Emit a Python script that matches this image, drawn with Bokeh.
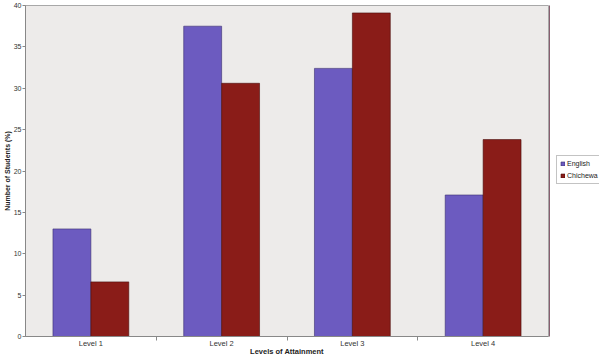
import numpy as np
from bokeh.plotting import figure
from bokeh.layouts import row
from bokeh.models import ColumnDataSource, FixedTicker, Legend, LegendItem, Range1d
from bokeh.embed import file_html
from bokeh.resources import INLINE

categories = ["Level 1", "Level 2", "Level 3", "Level 4"]
series_names = ["English", "Chichewa"]
english = [13.0, 37.5, 32.4, 17.1]
chichewa = [6.6, 30.6, 39.1, 23.8]
y_ticks = [0, 5, 10, 15, 20, 25, 30, 35, 40]

FONT = "Liberation Sans"
C_EN = "#6C5BC0"
C_CH = "#8A1C18"
centers = np.arange(len(categories)) + 0.5
bw = 0.29

p = figure(width=549, height=358, output_backend="svg", toolbar_location=None,
           x_range=Range1d(0, len(categories)), y_range=Range1d(0, 40),
           min_border_left=25, min_border_right=1, min_border_top=5, min_border_bottom=21)
p.background_fill_color = "#EDEBEA"
p.border_fill_color = "white"
p.outline_line_color = "#A8A8A8"
p.outline_line_width = 1
p.grid.visible = False

src_e = ColumnDataSource(dict(x=centers - bw / 2, top=english))
src_c = ColumnDataSource(dict(x=centers + bw / 2, top=chichewa))
p.vbar(x="x", top="top", width=bw, source=src_e, fill_color=C_EN,
       line_color="#3A2F70", line_width=0.6)
p.vbar(x="x", top="top", width=bw, source=src_c, fill_color=C_CH,
       line_color="#4A0E0C", line_width=0.6)

xa = p.xaxis[0]
xa.ticker = FixedTicker(ticks=list(centers), minor_ticks=list(np.arange(1, len(categories))))
xa.major_label_overrides = {float(c): lab for c, lab in zip(centers, categories)}
xa.major_tick_out = 0
xa.major_tick_in = 0
xa.minor_tick_out = 4
xa.minor_tick_in = 0
xa.minor_tick_line_color = "#888888"
xa.axis_line_color = "#888888"
xa.major_label_text_font = FONT
xa.major_label_text_font_size = "7.5px"
xa.major_label_text_color = "#333333"
xa.major_label_standoff = -2
xa.axis_label = "Levels of Attainment"
xa.axis_label_text_font = FONT
xa.axis_label_text_font_size = "7.5px"
xa.axis_label_text_font_style = "bold"
xa.axis_label_text_color = "#222222"
xa.axis_label_standoff = -4

ya = p.yaxis[0]
ya.ticker = FixedTicker(ticks=y_ticks)
ya.major_tick_out = 3
ya.major_tick_in = 0
ya.minor_tick_out = 0
ya.minor_tick_in = 0
ya.major_tick_line_color = "#888888"
ya.axis_line_color = "#888888"
ya.major_label_text_font = FONT
ya.major_label_text_font_size = "7px"
ya.major_label_text_color = "#333333"
ya.major_label_standoff = 1
ya.axis_label = "Number of Students (%)"
ya.axis_label_text_font = FONT
ya.axis_label_text_font_size = "7px"
ya.axis_label_text_font_style = "bold"
ya.axis_label_text_color = "#222222"
ya.axis_label_standoff = 0

# legend panel (separate narrow figure to the right of the plot)
q = figure(width=50, height=358, output_backend="svg", toolbar_location=None,
           x_range=Range1d(0, 1), y_range=Range1d(0, 1), min_border=0)
q.axis.visible = False
q.grid.visible = False
q.outline_line_color = None
q.background_fill_color = "white"
q.border_fill_color = "white"
# proxies for the legend swatches, placed outside the visible range
g_e = q.vbar(x=[-10], top=[1], width=0.1, fill_color=C_EN, line_color="#3A2F70", line_width=0.6)
g_c = q.vbar(x=[-10], top=[1], width=0.1, fill_color=C_CH, line_color="#4A0E0C", line_width=0.6)

legend = Legend(items=[LegendItem(label=series_names[0], renderers=[g_e]),
                       LegendItem(label=series_names[1], renderers=[g_c])],
                location=(7, 152))
legend.label_text_font = FONT
legend.label_text_font_size = "7px"
legend.label_text_color = "#222222"
legend.glyph_width = 5
legend.glyph_height = 5
legend.label_standoff = 2
legend.label_height = 9
legend.padding = 3
legend.spacing = 3
legend.margin = 0
legend.border_line_color = "#888888"
legend.border_line_width = 1
legend.background_fill_color = "white"
q.add_layout(legend, "center")

layout = row(p, q)
open("out.html", "w").write(file_html(layout, INLINE))
